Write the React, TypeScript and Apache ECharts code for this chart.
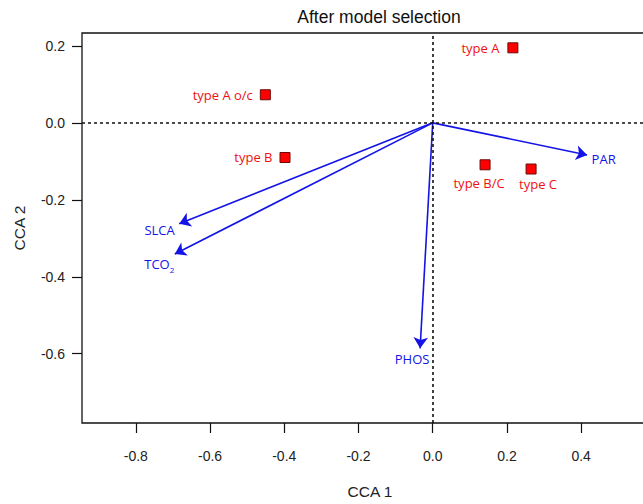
import React, { useEffect, useRef } from "react";
import * as echarts from "echarts";

const siteNames = ["type A", "type A o/c", "type B", "type B/C", "type C"];
const siteX = [0.216, -0.451, -0.398, 0.141, 0.265];
const siteY = [0.195, 0.073, -0.09, -0.109, -0.12];

const varNames = ["PAR", "SLCA", "TCO2", "PHOS"];
const varX = [0.416, -0.683, -0.695, -0.034];
const varY = [-0.0835, -0.262, -0.341, -0.586];

const xTicks = [-0.8, -0.6, -0.4, -0.2, 0, 0.2, 0.4];
const yTicks = [0.2, 0, -0.2, -0.4, -0.6];

const RED = "#ee1111";
const BLUE = "#1414e6";
const LABEL_FONT = "'Open Sans', 'Noto Sans', sans-serif";
const AXIS_FONT = "'Liberation Sans', Arial, sans-serif";

// label placement per site (relative to square)
const siteLabelCfg: any[] = [
  { position: "left", distance: 8 },
  { position: "left", distance: 7 },
  { position: "left", distance: 7 },
  { position: "inside", offset: [-6, 18] },
  { position: "inside", offset: [7, 15] },
];
const varLabelCfg: any[] = [
  { position: "right", distance: 4, offset: [0, 4] },
  { position: "left", distance: 4, offset: [0, 6] },
  { position: "left", distance: 0, offset: [0, 10] },
  { position: "inside", offset: [-8, 11] },
];

export default function App() {
  const ref = useRef<HTMLDivElement>(null);
  useEffect(() => {
    if (!ref.current) return;
    const chart = echarts.init(ref.current, undefined, { renderer: "svg" });
    const fmt = (v: number) => (Math.abs(v) < 1e-9 ? "0.0" : v.toFixed(1));
    chart.setOption({
      animation: false,
      backgroundColor: "#fff",
      grid: {
        left: 82,
        top: 33,
        right: 22,
        bottom: 78,
        show: true,
        borderColor: "#111",
        borderWidth: 1.3,
        containLabel: false,
      },
      graphic: [
        {
          type: "text",
          x: 379,
          y: 17,
          style: {
            text: "After model selection",
            font: `17.5px ${AXIS_FONT}`,
            fill: "#111",
            textAlign: "center",
            textVerticalAlign: "middle",
          },
        },
      ],
      xAxis: {
        type: "value",
        min: -0.945,
        max: 0.607,
        name: "CCA 1",
        nameLocation: "middle",
        nameGap: 60,
        nameTextStyle: { fontFamily: AXIS_FONT, fontSize: 15.5, color: "#222" },
        axisLine: { show: false, onZero: false },
        splitLine: { show: false },
        axisTick: {
          show: true,
          length: 10,
          customValues: xTicks,
          lineStyle: { color: "#111", width: 1.2 },
        },
        axisLabel: {
          customValues: xTicks,
          margin: 26,
          formatter: fmt,
          fontFamily: AXIS_FONT,
          fontSize: 14,
          color: "#222",
        },
      },
      yAxis: {
        type: "value",
        min: -0.78,
        max: 0.2335,
        name: "CCA 2",
        nameLocation: "middle",
        nameGap: 55,
        nameRotate: 90,
        nameTextStyle: { fontFamily: AXIS_FONT, fontSize: 15.5, color: "#222" },
        axisLine: { show: false, onZero: false },
        splitLine: { show: false },
        axisTick: {
          show: true,
          length: 10,
          customValues: yTicks,
          lineStyle: { color: "#111", width: 1.2 },
        },
        axisLabel: {
          customValues: yTicks,
          margin: 17,
          formatter: fmt,
          fontFamily: AXIS_FONT,
          fontSize: 14,
          color: "#222",
        },
      },
      series: [
        {
          type: "scatter",
          z: 1,
          symbolSize: 1,
          itemStyle: { color: "transparent", opacity: 1 },
          data: varNames.map((n, i) => ({
            name: n,
            value: [varX[i], varY[i]],
            label: {
              show: true,
              ...varLabelCfg[i],
              formatter: n === "TCO2" ? "{a|TCO}{b|2}" : n,
              color: BLUE,
              fontFamily: LABEL_FONT,
              fontSize: 13,
              rich: {
                a: { fontFamily: LABEL_FONT, fontSize: 13, color: BLUE, lineHeight: 18 },
                b: {
                  fontFamily: LABEL_FONT,
                  fontSize: 8,
                  color: BLUE,
                  lineHeight: 8,
                  verticalAlign: "bottom",
                },
              },
            },
          })),
          markLine: {
            silent: true,
            symbol: ["none", "none"],
            label: { show: false },
            lineStyle: { color: "#111", type: [3, 3], width: 1.6, opacity: 1 },
            data: [{ xAxis: 0 }, { yAxis: 0 }],
          },
        },
        {
          type: "lines",
          coordinateSystem: "cartesian2d",
          z: 2,
          symbol: ["none", "arrow"],
          symbolSize: 11,
          lineStyle: { color: BLUE, width: 1.6, opacity: 1, curveness: 0 },
          data: varNames.map((n, i) => ({
            name: n,
            coords: [
              [0, 0],
              [varX[i], varY[i]],
            ],
          })),
        },
        {
          type: "scatter",
          z: 3,
          symbol: "rect",
          symbolSize: 10,
          itemStyle: { color: "#ff0000", borderColor: "#6a0a0a", borderWidth: 1, opacity: 1 },
          data: siteNames.map((n, i) => ({
            name: n,
            value: [siteX[i], siteY[i]],
            label: {
              show: true,
              ...siteLabelCfg[i],
              formatter: n,
              color: RED,
              fontFamily: LABEL_FONT,
              fontSize: 13,
            },
          })),
        },
      ],
    });
    return () => chart.dispose();
  }, []);
  return (
    <div
      style={{
        position: "absolute",
        left: 0,
        top: 0,
        width: 643,
        height: 504,
        overflow: "hidden",
        background: "#fff",
      }}
    >
      <div ref={ref} style={{ width: 680, height: 504 }} />
    </div>
  );
}
